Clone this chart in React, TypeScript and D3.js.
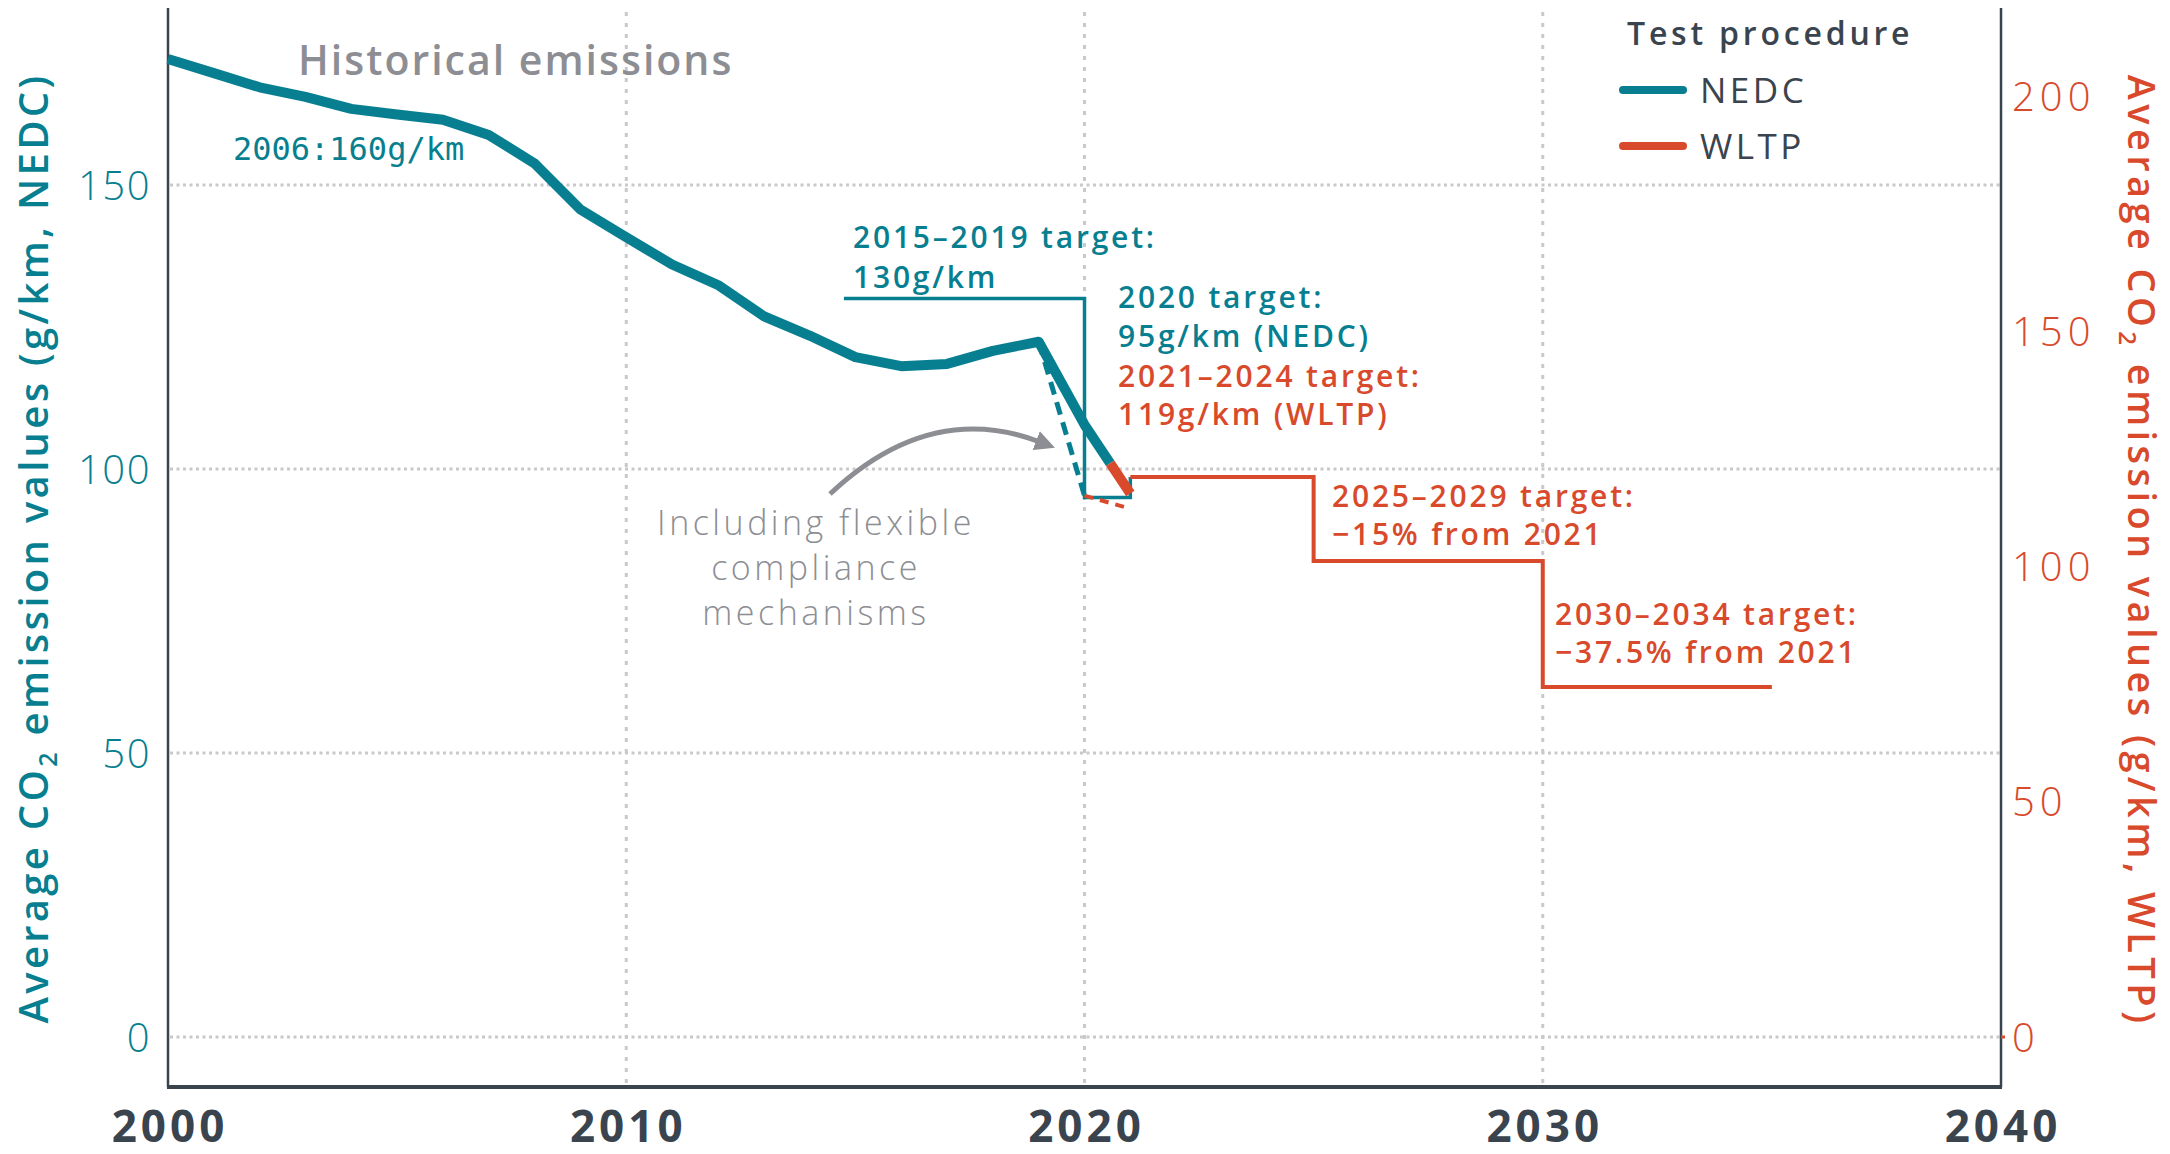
import React from 'react';
import * as d3 from 'd3';

// historical fleet averages, NEDC g/km
const YEARS = [2000, 2001, 2002, 2003, 2004, 2005, 2006, 2007, 2008, 2009, 2010,
  2011, 2012, 2013, 2014, 2015, 2016, 2017, 2018, 2019, 2020];
const NEDC_HISTORY = [172.2, 169.7, 167.2, 165.5, 163.4, 162.4, 161.5, 158.8, 153.8, 145.7, 140.8,
  136.0, 132.4, 126.9, 123.5, 119.7, 118.1, 118.5, 120.8, 122.4, 107.8];
const WLTP_2021 = 115.5;

// with flexible compliance mechanisms
const FLEX_YEARS = [2019, 2020];
const FLEX_NEDC = [122.4, 95.3];
const FLEX_WLTP_2021 = 112.3;

// regulatory targets
const NEDC_TARGETS = [
  { from: 2014.75, to: 2020, value: 130 },
  { from: 2020, to: 2021, value: 95 },
];
const WLTP_TARGETS = [
  { from: 2021, to: 2025, value: 119 },
  { from: 2025, to: 2030, value: 101.15 },
  { from: 2030, to: 2035, value: 74.4 },
];

const X_TICKS = [2000, 2010, 2020, 2030, 2040];
const LEFT_TICKS = [0, 50, 100, 150];
const RIGHT_TICKS = [0, 50, 100, 150, 200];
const GRID_X = [2010, 2020, 2030];

const TEAL = '#077f90';
const ORANGE = '#d84a2b';
const GRAY = '#8d8e94';
const DARK = '#3a444e';
const GRID = '#c9c9c9';
const FONT = "'Open Sans', sans-serif";

export default function App() {
  const width = 2170;
  const height = 1154;
  const top = 8;
  const bottom = 1087;

  const x = d3.scaleLinear().domain([2000, 2040]).range([168, 2001]);
  const yL = d3.scaleLinear().domain([0, 150]).range([1037, 185]);
  const yR = d3.scaleLinear().domain([0, 200]).range([1037, 96]);

  const pts: [number, number][] = YEARS.map((yr, i) => [x(yr), yL(NEDC_HISTORY[i])]);
  const last = pts[pts.length - 1];
  const end: [number, number] = [x(2021), yR(WLTP_2021)];
  // colour switches part way along the 2020-2021 segment
  const split = d3.interpolate(last, end)(0.56) as [number, number];
  const line = d3.line();
  const tealPath = line([...pts, split]);
  const orangePath = line([split, end]);

  const flexPts: [number, number][] = FLEX_YEARS.map((yr, i) => [x(yr), yL(FLEX_NEDC[i])]);
  const flexTeal = line(flexPts);
  const flexOrange = line([flexPts[1], [x(2021), yR(FLEX_WLTP_2021)]]);

  // step target paths
  let nedcStep = '';
  NEDC_TARGETS.forEach((t, i) => {
    nedcStep += (i === 0 ? `M${x(t.from)},${yL(t.value)}` : `V${yL(t.value)}`) + `H${x(t.to)}`;
  });
  nedcStep += `V${yR(WLTP_TARGETS[0].value)}`;
  let wltpStep = '';
  WLTP_TARGETS.forEach((t, i) => {
    wltpStep += (i === 0 ? `M${x(t.from)},${yR(t.value)}` : `V${yR(t.value)}`) + `H${x(t.to)}`;
  });

  return (
    <svg width={width} height={height} style={{ position: 'absolute', left: 0, top: 0, background: '#fff' }}
      fontFamily={FONT}>
      <defs>
        <marker id="arrowhead" viewBox="0 0 10 10" refX="2" refY="5" markerWidth="20" markerHeight="20"
          markerUnits="userSpaceOnUse" orient="auto">
          <path d="M0,0 L10,5 L0,10 z" fill={GRAY} />
        </marker>
      </defs>

      {/* grid */}
      {GRID_X.map(v => (
        <line key={'gx' + v} x1={x(v)} x2={x(v)} y1={top + 4} y2={bottom}
          stroke={GRID} strokeWidth={3} strokeDasharray="4 7" />
      ))}
      {LEFT_TICKS.map(v => (
        <line key={'gy' + v} x1={x(2000) + 2} x2={x(2040)} y1={yL(v)} y2={yL(v)}
          stroke={GRID} strokeWidth={3} strokeDasharray="3 3.5" />
      ))}

      {/* axes */}
      <line x1={x(2000)} x2={x(2000)} y1={top} y2={bottom} stroke={DARK} strokeWidth={2.5} />
      <line x1={x(2040)} x2={x(2040)} y1={top} y2={bottom} stroke={DARK} strokeWidth={2.5} />
      <line x1={x(2000) - 1} x2={x(2040) + 1} y1={bottom} y2={bottom} stroke={DARK} strokeWidth={4} />
      <line x1={x(2040)} x2={x(2040) + 4} y1={yR(0)} y2={yR(0)} stroke={ORANGE} strokeWidth={3} />

      {X_TICKS.map(v => (
        <text key={'xt' + v} x={x(v) + 2} y={1142} textAnchor="middle" fontSize={44} fontWeight={700}
          letterSpacing={4} fill={DARK}>
          {v}
        </text>
      ))}
      {LEFT_TICKS.map(v => (
        <text key={'lt' + v} x={151} y={yL(v) + 14.5} textAnchor="end" fontSize={40} fontWeight={300}
          letterSpacing={1.5} fill={TEAL}>
          {v}
        </text>
      ))}
      {RIGHT_TICKS.map(v => (
        <text key={'rt' + v} x={2012} y={yR(v) + 14.5} textAnchor="start" fontSize={40} fontWeight={300}
          letterSpacing={5} fill={ORANGE}>
          {v}
        </text>
      ))}

      <text transform="translate(48,548) rotate(-90)" textAnchor="middle" fontSize={40} fontWeight={600}
        letterSpacing={3.3} fill={TEAL}>
        Average CO<tspan dy={9} fontSize={25}>2</tspan><tspan dy={-9}> emission values (g/km, NEDC)</tspan>
      </text>
      <text transform="translate(2128,551) rotate(90)" textAnchor="middle" fontSize={38} fontWeight={600}
        letterSpacing={4.4} fill={ORANGE}>
        Average CO<tspan dy={9} fontSize={24}>2</tspan><tspan dy={-9}> emission values (g/km, WLTP)</tspan>
      </text>

      {/* targets */}
      <path d={nedcStep} fill="none" stroke={TEAL} strokeWidth={3.5} />
      <path d={wltpStep} fill="none" stroke={ORANGE} strokeWidth={4} />

      {/* flexible compliance */}
      <path d={flexTeal ?? ''} fill="none" stroke={TEAL} strokeWidth={5} strokeDasharray="13 8" />
      <path d={flexOrange ?? ''} fill="none" stroke={ORANGE} strokeWidth={4} strokeDasharray="9 7" />

      {/* history */}
      <path d={tealPath ?? ''} fill="none" stroke={TEAL} strokeWidth={10} strokeLinejoin="round" />
      <path d={orangePath ?? ''} fill="none" stroke={ORANGE} strokeWidth={10} strokeLinecap="butt" />

      {/* annotations */}
      <text x={298} y={75} fontSize={41} fontWeight={600} letterSpacing={2} fill={GRAY}>Historical emissions</text>
      <text x={233} y={160} fontSize={32} fontFamily="'DejaVu Sans Mono', monospace" fill={TEAL}>2006:160g/km</text>

      <g fontSize={30} fontWeight={600} letterSpacing={2.8} fill={TEAL}>
        <text x={853} y={248}>2015–2019 target:</text>
        <text x={853} y={288}>130g/km</text>
        <text x={1118} y={308}>2020 target:</text>
        <text x={1118} y={347}>95g/km (NEDC)</text>
      </g>
      <g fontSize={30} fontWeight={600} letterSpacing={2.8} fill={ORANGE}>
        <text x={1118} y={387}>2021–2024 target:</text>
        <text x={1118} y={425}>119g/km (WLTP)</text>
        <text x={1332} y={507}>2025–2029 target:</text>
        <text x={1332} y={545}>−15% from 2021</text>
        <text x={1555} y={625}>2030–2034 target:</text>
        <text x={1555} y={663}>−37.5% from 2021</text>
      </g>

      <path d="M830,494 Q930,400 1040,442" fill="none" stroke={GRAY} strokeWidth={5} markerEnd="url(#arrowhead)" />
      <g fontSize={34} fontWeight={300} letterSpacing={3.5} fill={GRAY} textAnchor="middle">
        <text x={816} y={535}>Including flexible</text>
        <text x={816} y={580}>compliance</text>
        <text x={816} y={625}>mechanisms</text>
      </g>

      {/* legend */}
      <text x={1627} y={45} fontSize={32} fontWeight={600} letterSpacing={3.8} fill={DARK}>Test procedure</text>
      <line x1={1623} x2={1683} y1={90} y2={90} stroke={TEAL} strokeWidth={8} strokeLinecap="round" />
      <text x={1700} y={103} fontSize={35} fontWeight={400} letterSpacing={3.5} fill={DARK}>NEDC</text>
      <line x1={1623} x2={1683} y1={146} y2={146} stroke={ORANGE} strokeWidth={8} strokeLinecap="round" />
      <text x={1700} y={159} fontSize={35} fontWeight={400} letterSpacing={3.5} fill={DARK}>WLTP</text>
    </svg>
  );
}
